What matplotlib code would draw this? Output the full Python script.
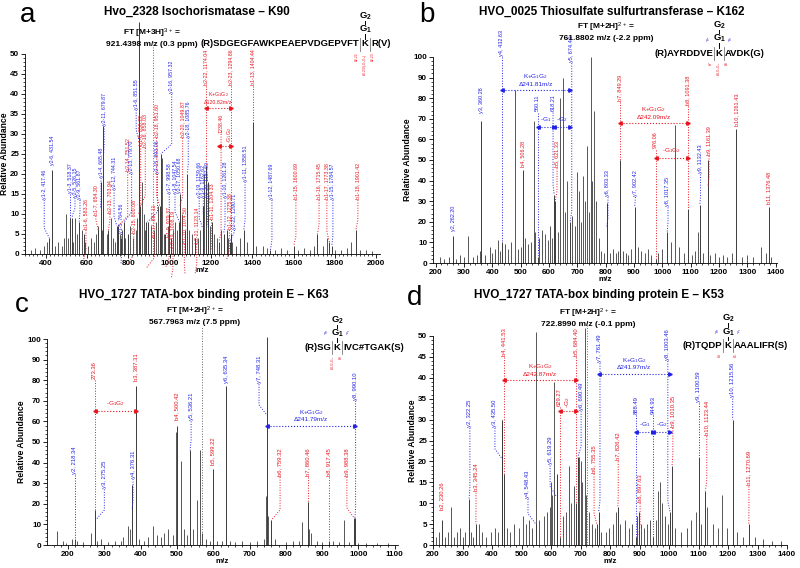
import matplotlib
matplotlib.use('Agg')
import matplotlib.pyplot as plt
from matplotlib.lines import Line2D
from matplotlib.ticker import MultipleLocator

plt.rcParams['font.family'] = ['Liberation Sans', 'DejaVu Sans']
plt.rcParams['mathtext.fontset'] = 'custom'
plt.rcParams['mathtext.rm'] = 'Liberation Sans'
plt.rcParams['mathtext.bf'] = 'Liberation Sans:bold'
plt.rcParams['mathtext.it'] = 'Liberation Sans:italic'

BLUE = '#2222e6'
RED = '#e8141e'
PEAK = '#3a3a3a'
W, H = 800, 568

# ---------------- panel a : Hvo_2328 Isochorismatase - K90 ----------------
a_noise_mz = [330, 350, 372, 390, 405, 445, 460, 478, 490, 500, 510, 530, 540, 552, 575,
              590, 605, 620, 635, 645, 655, 675, 695, 715, 725, 735, 758, 770, 785, 810,
              822, 835, 842, 866, 875, 882, 895, 910, 925, 935, 945, 962, 975, 990, 1015,
              1025, 1035, 1060, 1095, 1110, 1135, 1148, 1168, 1185, 1195, 1215, 1230,
              1248, 1282, 1300, 1320, 1340, 1375, 1420, 1450, 1470, 1510, 1540, 1570,
              1620, 1650, 1680, 1700, 1740, 1760, 1800, 1830, 1860, 1880, 1920, 1950, 1980]
a_noise_int = [1, 1.5, 1, 2, 3, 2, 3, 2, 4, 10, 4, 3, 9, 5, 6,
               3, 2, 4, 3, 5, 7, 6, 5, 9, 4, 3, 5, 6, 4, 7,
               4, 6, 9, 18, 10, 6, 5, 7, 6, 8, 12, 24, 5, 7, 6,
               8, 6, 10, 6, 5, 4, 6, 20, 9, 7, 5, 4,
               6, 4, 3, 2, 4, 3, 2, 2, 1.5, 1, 1.5, 1,
               1, 1.5, 1, 2, 2, 4, 1, 1, 1.5, 3, 1, 1, 0.8]
a_lab_mz = [417.46, 431.54, 518.37, 526.15, 561.87, 583.26, 654.30, 665.48, 679.87, 703.94,
            744.31, 764.56, 751.52, 779.70, 800.08, 850.22, 858.03, 851.55, 893.06, 887.11,
            951.60, 957.32, 998.58, 979.37, 1047.54, 1008.19, 1050.68, 1049.87, 1085.76,
            1074.50, 1123.14, 1159.66, 1162.62, 1187.60, 1174.04, 1204.33, 1238.46, 1261.28,
            1275.38, 1290.71, 1294.86, 1358.51, 1404.44, 1487.69, 1600.69, 1715.45, 1773.38,
            1784.57, 1901.42]
a_lab_int = [4, 21, 9, 9, 8, 5, 6, 18, 32, 6,
             7, 4, 7, 8, 5, 10, 12, 58, 8, 8,
             12, 25, 10, 5, 8, 4, 15, 12, 20,
             6, 4, 12, 10, 18, 22, 8, 3, 5,
             6, 3, 5, 6, 33, 1, 2, 5, 3,
             2, 6]
a_lab_ion = ['y', 'y', 'y', 'y', 'y', 'b', 'b', 'y', 'y', 'b',
             'y', 'y', 'b', 'y', 'b', 'b', 'b', 'y', 'y', 'b',
             'b', 'y', 'y', 'b', 'y', 'b', 'y', 'b', 'y',
             'b', 'b', 'y', 'y', 'y', 'b', 'b', 'b', 'y',
             'b', 'y', 'b', 'y', 'b', 'y', 'b', 'b', 'b',
             'y', 'b']
a_lab_text = ['y1-2, 417.46', 'y2-6, 431.54', 'y1-3, 518.37', 'y2-5, 526.15', 'y2-9, 561.87',
              'b1-6, 583.26', 'b1-7, 654.30', 'y1-4, 665.48', 'y2-11, 679.87', 'b2-13, 703.94',
              'y2-12, 744.31', 'y1-5, 764.56', 'b2-14, 751.52', 'y2-13, 779.70', 'b2-15, 800.08',
              'b1-8, 850.22', 'b2-16, 858.03', 'y1-6, 851.55', 'y2-15, 893.06', 'b2-17, 887.11',
              'b2-18, 951.60', 'y2-16, 957.32', 'y1-7, 998.58', 'b1-9, 979.37', 'y1-8, 1047.54',
              'b2-19, 1008.19', 'y2-17, 1050.68', 'b2-20, 1049.87', 'y2-18, 1085.76',
              'b1-10, 1074.50', 'b2-21, 1123.14', 'y2-19, 1159.66', 'y1-9, 1162.62',
              'y2-20, 1187.60', 'b2-22, 1174.04', 'b1-11, 1204.33', '1238.46', 'y1-10, 1261.28',
              'b1-12, 1275.38', 'y2-22, 1290.71', 'b2-23, 1294.86', 'y1-11, 1358.51',
              'b1-13, 1404.44', 'y1-12, 1487.69', 'b1-15, 1600.69', 'b1-16, 1715.45',
              'b1-17, 1773.38', 'y1-15, 1784.57', 'b1-18, 1901.42']
# label placement (x in m/z, y = bottom of label)
a_pos_x = [393, 431.54, 518.37, 542, 566, 595, 643, 668, 683, 711,
           731, 767, 797, 816, 826, 860, 882, 838, 941, 925,
           937, 1010, 998, 998, 1026, 1016, 1050, 1063, 1090,
           1071, 1131, 1143, 1163, 1182, 1174.04, 1203, 1249, 1268,
           1289, 1313, 1294.86, 1365, 1404.44, 1495, 1611, 1723, 1761,
           1790, 1911]
a_pos_y = [13.5, 22, 15, 14, 13.5, 6, 9.5, 19, 32, 10,
           16, 5, 20.5, 20, 5, 27, 26.5, 36, 20, 4,
           29, 40, 15, 4, 15, 1.5, 15, 29, 29,
           2.5, 2.5, 14, 14, 14, 42, 8.5, 30, 14,
           6, 6, 42, 18, 42, 13.5, 13.5, 13.5, 13.5,
           13.5, 13.5]

# ---------------- panel b : HVO_0025 Thiosulfate sulfurtransferase - K162 ----------------
b_noise_mz = [215, 230, 245, 270, 285, 300, 315, 330, 345, 355, 375, 390, 400, 410, 418,
              425, 445, 455, 465, 479, 490, 500, 515, 525, 535, 548, 552, 565, 575, 585,
              595, 605, 612, 630, 640, 649, 656, 665, 680, 690, 700, 705, 712, 720, 728,
              735, 742, 748, 752, 757, 765, 775, 785, 795, 815, 825, 835, 845, 860, 870,
              880, 890, 915, 925, 940, 950, 960, 985, 1000, 1030, 1046, 1060, 1075, 1105,
              1115, 1125, 1145, 1170, 1185, 1200, 1215, 1230, 1245, 1280, 1300, 1320, 1350,
              1365, 1385]
b_noise_int = [3, 2, 3, 2, 4, 3, 13, 3, 4, 6, 4, 8, 5, 7, 11,
               6, 9, 7, 10, 84, 7, 8, 12, 9, 10, 69, 15, 12, 16, 14,
               11, 18, 12, 15, 80, 90, 25, 40, 23, 18, 44, 35, 20, 42, 30,
               57, 25, 100, 40, 74, 30, 12, 6, 5, 5, 7, 5, 6, 6, 5,
               4, 7, 8, 6, 5, 7, 4, 5, 7, 10, 67, 8, 5, 4,
               6, 15, 5, 4, 5, 3, 4, 3, 5, 3, 4, 3, 8,
               5, 3]
b_lab_mz = [262.20, 360.28, 432.63, 506.28, 560.11, 618.21, 621.33, 674.44, 803.33, 849.29,
            902.42, 976.06, 1017.35, 1091.38, 1132.43, 1161.39, 1261.43, 1376.48]
b_lab_int = [13, 69, 10, 45, 3, 33, 30, 20, 29, 50,
             27, 2, 15, 26, 28, 50, 65, 27]
b_lab_ion = ['y', 'y', 'y', 'b', 'y', 'y', 'b', 'y', 'y', 'b',
             'y', 'b', 'y', 'b', 'y', 'b', 'b', 'b']
b_lab_text = ['y2, 262.20', 'y3, 360.28', 'y4, 432.63', 'b4, 506.28', '560.11', '618.21',
              'b5, 621.33', 'y5, 674.44', 'y6, 803.33', 'b7, 849.29', 'y7, 902.42', '976.06',
              'y8, 1017.35', 'b8, 1091.38', 'y9, 1132.43', 'b9, 1161.39', 'b10, 1261.43',
              'b11, 1376.48']
b_pos_x = [262, 360.28, 432.63, 506.28, 560.11, 614, 628, 680, 808, 849.29,
           905, 976.06, 1020, 1091.38, 1135, 1165, 1261.43, 1376.48]
b_pos_y = [15, 72, 100, 46, 73, 73, 46, 97, 32, 78,
           32, 55, 27, 76, 43, 52, 66, 28]

# ---------------- panel c : HVO_1727 TATA-box binding protein E - K63 ----------------
c_noise_mz = [170, 185, 195, 210, 225, 240, 262, 280, 290, 310, 330, 345, 352, 365, 370,
              395, 410, 420, 435, 445, 455, 465, 475, 490, 497, 510, 520, 528, 545, 555,
              563, 570, 580, 590, 610, 625, 645, 660, 680, 700, 720, 740, 745, 752, 770,
              800, 820, 835, 845, 865, 870, 885, 900, 930, 945, 960, 975, 1000, 1020, 1050,
              1080]
c_noise_int = [7, 2, 1, 3, 2, 1.5, 6, 2, 3, 1.5, 2, 2, 4, 9, 8,
               3, 2, 4, 9, 5, 4, 6, 8, 5, 55, 41, 8, 5, 8, 22,
               46, 6, 3, 2, 2, 2, 2, 1.5, 2, 1.5, 2, 3, 24, 14, 3,
               1.5, 2, 2, 11, 8, 6, 2, 1.5, 2, 1.5, 12, 1.5, 1, 1, 1,
               1]
c_lab_mz = [218.34, 273.36, 275.25, 376.31, 387.31, 500.42, 536.21, 599.22, 635.34, 748.31,
            990.10, 759.32, 860.46, 917.45, 988.38]
c_lab_int = [3, 17, 12, 29, 77, 58, 46, 37, 77, 101,
             13, 12, 21, 2, 13]
c_lab_ion = ['y', 'b', 'y', 'y', 'b', 'b', 'y', 'b', 'y', 'y',
             'y', 'b', 'b', 'b', 'b']
c_lab_text = ['y2, 218.34', '273.36', 'y3, 275.25', 'y4, 376.31', 'b3, 387.31', 'b4, 500.42',
              'y5, 536.21', 'b5, 599.22', 'y6, 635.34', 'y7, 748.31', 'y8, 990.10',
              'b6, 759.32', 'b7, 860.46', 'b8, 917.45', 'b9, 988.38']
c_pos_x = [218.34, 273.36, 300, 379, 387.31, 500.42, 539, 599.22, 635.34, 726,
           992, 784, 860.46, 917.45, 968]
c_pos_y = [34, 80, 27, 32, 79, 60, 60, 38, 78, 78,
           70, 33, 33, 33, 33]

# ---------------- panel d : HVO_1727 TATA-box binding protein E - K53 ----------------
d_noise_mz = [210, 220, 240, 250, 260, 270, 280, 290, 300, 310, 330, 335, 355, 365, 380,
              395, 410, 420, 433, 450, 460, 475, 490, 505, 515, 525, 535, 550, 560, 575,
              585, 595, 600, 605, 610, 620, 640, 650, 660, 668, 678, 695, 700, 705, 714,
              720, 730, 740, 748, 770, 785, 795, 810, 820, 835, 850, 865, 875, 890, 905,
              915, 925, 935, 955, 962, 968, 975, 985, 995, 1020, 1040, 1060, 1075, 1090,
              1110, 1130, 1150, 1165, 1180, 1195, 1230, 1250, 1290, 1320, 1350, 1380]
d_noise_int = [2, 3, 2, 3, 9, 2, 3, 4, 2, 3, 3, 2, 5, 3, 2,
               3, 4, 3, 30, 4, 3, 5, 4, 7, 5, 6, 4, 51, 6, 7,
               8, 9, 15, 12, 39, 16, 7, 8, 19, 10, 14, 21, 20, 15, 52,
               12, 8, 5, 4, 3, 3, 4, 5, 8, 5, 6, 4, 5, 7, 5,
               4, 5, 6, 6, 13, 15, 10, 7, 5, 4, 3, 4, 6, 8,
               5, 9, 5, 4, 12, 4, 3, 2, 2, 1.5, 1, 1]
d_lab_mz = [230.26, 322.25, 345.24, 435.50, 441.53, 548.43, 619.29, 629.27, 684.40, 690.49,
            755.35, 761.49, 826.42, 888.49, 897.63, 944.93, 1003.46, 1010.35, 1100.59,
            1123.44, 1215.56, 1270.69]
d_lab_int = [6, 11, 5, 30, 17, 5, 17, 2, 10, 21,
             5, 8, 9, 2, 8, 2, 8, 19, 21,
             13, 30, 5]
d_lab_ion = ['b', 'y', 'b', 'y', 'b', 'y', 'y', 'b', 'b', 'y',
             'b', 'y', 'b', 'y', 'b', 'y', 'y', 'b', 'y',
             'b', 'y', 'b']
d_lab_text = ['b2, 230.26', 'y2, 322.25', 'b3, 345.24', 'y3, 435.50', 'b4, 441.53',
              'y4, 548.43', 'y5, 619.29', '629.27', 'b5, 684.40', 'y6, 690.49', 'b6, 755.35',
              'y7, 761.49', 'b7, 826.42', '888.49', 'b8, 897.63', '944.93', 'y8, 1003.46',
              'b9, 1010.35', 'y9, 1100.59', 'b10, 1123.44', 'y10, 1215.56', 'b11, 1270.69']
d_pos_x = [230.26, 325, 346, 410, 441.53, 522, 597, 629.27, 684.40, 702,
           746, 766, 828, 888.49, 902, 944.93, 996, 1013, 1100.59,
           1128, 1216, 1271]
d_pos_y = [8, 28, 12.5, 28, 45, 11, 19, 33, 45, 32,
           17, 43.5, 20, 31, 10, 31, 44, 28, 34,
           26, 35, 14]


def fig_xy(x, y):
    return x / W, 1 - y / H


def draw_spectrum(ax, noise_mz, noise_int, lab_mz, lab_int, lab_ion, lab_text,
                  pos_x, pos_y, ymax, fs):
    ax.vlines(noise_mz, 0, noise_int, color=PEAK, lw=0.6, clip_on=False, zorder=2)
    ax.vlines(lab_mz, 0, lab_int, color=PEAK, lw=0.7, clip_on=False, zorder=2)
    step = ymax * 0.05
    for mz, h, ion, txt, lx, ly in zip(lab_mz, lab_int, lab_ion, lab_text, pos_x, pos_y):
        c = BLUE if ion == 'y' else RED
        if h > ly - step:
            top = ly - 3 * step if abs(lx - mz) > 1 else ly
        else:
            top = h
        if abs(lx - mz) < 1:
            xs, ys = [lx, mz], [ly, top]
        else:
            kink = min(top + step, ly)
            xs, ys = [lx, lx, mz], [ly, kink, top]
        ax.plot(xs, ys, ls=':', color=c, lw=0.7, clip_on=False, zorder=3)
        ax.text(lx, ly + ymax * 0.006, txt, rotation=90, ha='center', va='bottom',
                fontsize=fs, color=c, clip_on=False, zorder=4)


def draw_arrow(ax, x0, x1, y, text, color, fs, rot=0, tx=None):
    ax.plot([x0, x1], [y, y], ls=':', color=color, lw=0.8, clip_on=False, zorder=3)
    ax.plot([x0], [y], marker='<', ms=2.5, color=color, clip_on=False, zorder=3)
    ax.plot([x1], [y], marker='>', ms=2.5, color=color, clip_on=False, zorder=3)
    ylo, yhi = ax.get_ylim()
    if tx is None:
        tx = (x0 + x1) / 2
    ax.text(tx, y + (yhi - ylo) * 0.015, text, ha='center', va='bottom',
            fontsize=fs, color=color, rotation=rot, linespacing=1.2, clip_on=False)


def style_axes(ax, xlim, ymax, xmaj, xmin, ymaj, ymin):
    ax.set_xlim(*xlim)
    ax.set_ylim(0, ymax)
    for s in ['top', 'right']:
        ax.spines[s].set_visible(False)
    for s in ['left', 'bottom']:
        ax.spines[s].set_linewidth(0.6)
    ax.xaxis.set_major_locator(MultipleLocator(xmaj))
    ax.xaxis.set_minor_locator(MultipleLocator(xmin))
    ax.yaxis.set_major_locator(MultipleLocator(ymaj))
    ax.yaxis.set_minor_locator(MultipleLocator(ymin))
    ax.tick_params(which='major', length=3, width=0.6, labelsize=5.8, pad=1.2)
    ax.tick_params(which='minor', length=1.5, width=0.5)
    for lab in ax.get_xticklabels() + ax.get_yticklabels():
        lab.set_fontweight('bold')
    ax.set_xlabel('m/z', fontsize=5.8, fontweight='bold', labelpad=0)
    ax.set_ylabel('Relative Abundance', fontsize=6.2, fontweight='bold', labelpad=1)
    ax.patch.set_alpha(0)


def header(fig, letter, lpos, title, tpos, ft1, ft2, fpos):
    fig.text(*fig_xy(*lpos), letter, fontsize=20, ha='center', va='center')
    fig.text(*fig_xy(*tpos), title, fontsize=8.5, fontweight='bold', ha='center', va='center')
    fig.text(*fig_xy(fpos[0], fpos[1]), ft1, fontsize=6, fontweight='bold', ha='center', va='center')
    fig.text(*fig_xy(fpos[0], fpos[1] + 11), ft2, fontsize=6, fontweight='bold', ha='center', va='center')


def sequence(fig, left, right, kx, ky, g2y, g1y, fs=6.8):
    fig.text(*fig_xy(kx - 6, ky), left, fontsize=fs, fontweight='bold', ha='right', va='center')
    fig.text(*fig_xy(kx, ky), 'K', fontsize=fs, fontweight='bold', ha='center', va='center')
    fig.text(*fig_xy(kx + 6, ky), right, fontsize=fs, fontweight='bold', ha='left', va='center')
    fig.text(*fig_xy(kx, g2y), r'$\mathbf{G_2}$', fontsize=fs, ha='center', va='center')
    fig.text(*fig_xy(kx, g1y), r'$\mathbf{G_1}$', fontsize=fs, ha='center', va='center')
    for y0, y1 in [(g2y + 5, g1y - 5), (g1y + 5, ky - 5)]:
        x0, yy0 = fig_xy(kx, y0)
        _, yy1 = fig_xy(kx, y1)
        fig.add_artist(Line2D([x0, x0], [yy0, yy1], color='black', lw=0.7))
    # thin cleavage brackets around the modified lysine
    for dx in (-5, 5):
        x0, yy0 = fig_xy(kx + dx, ky - 6)
        _, yy1 = fig_xy(kx + dx, ky + 7)
        fig.add_artist(Line2D([x0, x0], [yy0, yy1], color='#777777', lw=0.6))


def tiny(fig, x, y, t, c, rot=0):
    fig.text(*fig_xy(x, y), t, fontsize=2.4, color=c, rotation=rot, ha='center',
             va='top' if rot else 'center')


fig = plt.figure(figsize=(8, 5.68), dpi=100)

# panel a
ax_a = fig.add_axes([25 / W, 1 - 254 / H, 355 / W, 200 / H])
style_axes(ax_a, (300, 2018), 50, 200, 20, 5, 1)
ax_a.vlines([921.44], 0, 53, colors='#666666', linestyles=':', lw=0.7, clip_on=False)
draw_spectrum(ax_a, a_noise_mz, a_noise_int, a_lab_mz, a_lab_int, a_lab_ion, a_lab_text,
              a_pos_x, a_pos_y, 50, 3.8)
draw_arrow(ax_a, 1174.04, 1294.86, 36.5, 'K+G$_1$G$_2$\n\u0394120.82m/z', RED, 3.8)
draw_arrow(ax_a, 1238.46, 1294.86, 27, '-G$_1$G$_2$', RED, 3.8, rot=90, tx=1290)
header(fig, 'a', (28, 15), 'Hvo_2328 Isochorismatase \u2013 K90', (197, 12),
       'FT [M+3H]$^{3+}$ =', '921.4398 m/z (0.3 ppm)', (152, 33))
sequence(fig, '(R)SDGEGFAWKPEAEPVDGEPVFT', 'R(V)', 365, 44, 16, 29)
tiny(fig, 357, 52, 'b2-22', RED, 90)
tiny(fig, 365, 53, 'b2-23/(-G$_1$G$_2$)', RED, 90)
tiny(fig, 373, 52, 'b2-23', RED, 90)

# panel b
ax_b = fig.add_axes([433 / W, 1 - 263 / H, 344 / W, 206 / H])
style_axes(ax_b, (190, 1405), 100, 100, 20, 10, 2)
draw_spectrum(ax_b, b_noise_mz, b_noise_int, b_lab_mz, b_lab_int, b_lab_ion, b_lab_text,
              b_pos_x, b_pos_y, 100, 4.0)
draw_arrow(ax_b, 432.63, 674.44, 84, 'K+G$_1$G$_2$\n\u0394241.81m/z', BLUE, 4.6)
draw_arrow(ax_b, 560.11, 618.21, 66, '-G$_1$', BLUE, 4.6)
draw_arrow(ax_b, 618.21, 674.44, 66, '-G$_2$', BLUE, 4.6)
draw_arrow(ax_b, 849.29, 1091.38, 68, 'K+G$_1$G$_2$\n\u0394242.09m/z', RED, 4.6)
draw_arrow(ax_b, 976.06, 1091.38, 51, '-G$_1$G$_2$', RED, 4.6)
header(fig, 'b', (427, 15), 'HVO_0025 Thiosulfate sulfurtransferase \u2013 K162', (612, 12),
       'FT [M+2H]$^{2+}$ =', '761.8802 m/z (-2.2 ppm)', (606, 27))
sequence(fig, '(R)AYRDDVE', 'AVDK(G)', 719, 53, 25, 38)
tiny(fig, 708, 40, 'y5', BLUE)
tiny(fig, 730, 40, 'y4', BLUE)
tiny(fig, 711, 61, 'b7', RED, 90)
tiny(fig, 719, 61, 'b8-G$_1$G$_2$', RED, 90)
tiny(fig, 727, 61, 'b8', RED, 90)

# panel c
ax_c = fig.add_axes([47 / W, 23 / H, 350.7 / W, 206 / H])
style_axes(ax_c, (142, 1108), 100, 100, 20, 10, 2)
ax_c.vlines([567.80], 0, 106, colors='#666666', linestyles=':', lw=0.7, clip_on=False)
draw_spectrum(ax_c, c_noise_mz, c_noise_int, c_lab_mz, c_lab_int, c_lab_ion, c_lab_text,
              c_pos_x, c_pos_y, 100, 4.2)
draw_arrow(ax_c, 273.36, 387.31, 65, '-G$_1$G$_2$', RED, 4.6)
draw_arrow(ax_c, 748.31, 990.10, 58, 'K+G$_1$G$_2$\n\u0394241.79m/z', BLUE, 4.6)
header(fig, 'c', (22, 305), 'HVO_1727 TATA-box binding protein E \u2013 K63', (204, 295),
       'FT [M+2H]$^{2+}$ =', '567.7963 m/z (7.5 ppm)', (195, 311))
sequence(fig, '(R)SG', 'IVC#TGAK(S)', 337, 347, 320, 333)
tiny(fig, 326, 333, 'y8', BLUE)
tiny(fig, 348, 333, 'y7', BLUE)
tiny(fig, 333, 355, 'b3-G$_1$G$_2$', RED, 90)
tiny(fig, 341, 355, 'b3', RED, 90)

# panel d
ax_d = fig.add_axes([433 / W, 23 / H, 354 / W, 209 / H])
style_axes(ax_d, (200, 1400), 50, 100, 20, 5, 1)
ax_d.vlines([722.90], 0, 53, colors='#666666', linestyles=':', lw=0.7, clip_on=False)
draw_spectrum(ax_d, d_noise_mz, d_noise_int, d_lab_mz, d_lab_int, d_lab_ion, d_lab_text,
              d_pos_x, d_pos_y, 50, 4.2)
draw_arrow(ax_d, 441.53, 684.40, 39.5, 'K+G$_1$G$_2$\n\u0394242.87m/z', RED, 4.6)
draw_arrow(ax_d, 629.27, 684.40, 32, '-G$_2$', RED, 4.6, rot=90)
draw_arrow(ax_d, 761.49, 1003.46, 41, 'K+G$_1$G$_2$\n\u0394241.97m/z', BLUE, 4.6)
draw_arrow(ax_d, 888.49, 944.93, 27, '-G$_1$', BLUE, 4.6)
draw_arrow(ax_d, 944.93, 1003.46, 27, '-G$_2$', BLUE, 4.6)
header(fig, 'd', (415, 298), 'HVO_1727 TATA-box binding protein E \u2013 K53', (599, 295),
       'FT [M+2H]$^{2+}$ =', '722.8990 m/z (-0.1 ppm)', (588, 313))
sequence(fig, '(R)TQDP', 'AAALIFR(S)', 728, 345, 318, 332)
tiny(fig, 717, 332, 'y8', BLUE)
tiny(fig, 739, 332, 'y7', BLUE)
tiny(fig, 720, 353, 'b4', RED, 90)
tiny(fig, 736, 353, 'b5', RED, 90)

fig.savefig('out.png', dpi=100)
